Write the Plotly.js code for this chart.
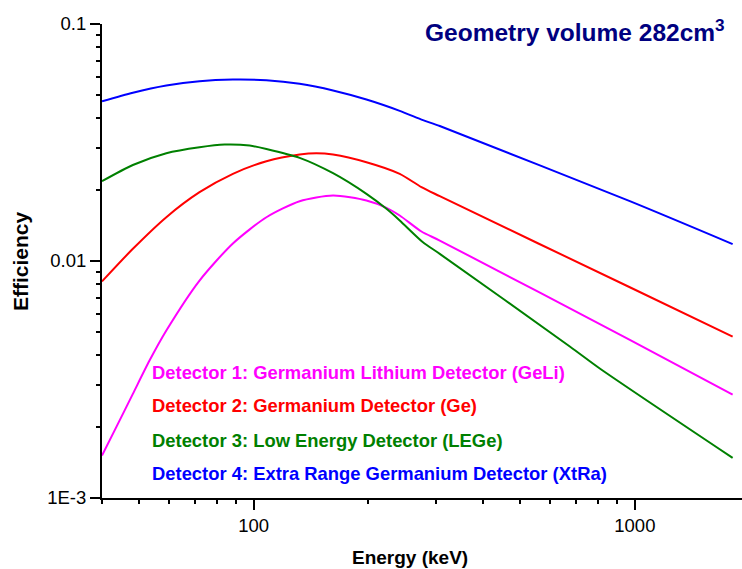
<!DOCTYPE html>
<html>
<head>
<meta charset="utf-8">
<script src="https://cdn.plot.ly/plotly-3.0.1.min.js"></script>
<style>html,body{margin:0;padding:0;background:#fff;}#chart{width:742px;height:569px;}</style>
</head>
<body>
<div id="chart"></div>
<script>
// Detector 1: GeLi (magenta)
const det1Energy = [40, 43.6, 48.2, 53.3, 59, 72.1, 88.2, 108, 132, 161.5, 197.6, 223, 241.6, 275.5, 307.7, 970, 1805];
const det1Eff    = [0.00151, 0.00199, 0.00275, 0.0038, 0.00509, 0.00827, 0.01186, 0.0153, 0.01788, 0.0189, 0.0180, 0.01677, 0.01556, 0.01332, 0.0122, 0.00465, 0.00273];
// Detector 2: Ge (red)
const det2Energy = [40, 48.2, 59, 72.1, 88.2, 108, 132, 146, 161.5, 197.6, 241.6, 275.5, 307.7, 970, 1805];
const det2Eff    = [0.0082, 0.01126, 0.01531, 0.01951, 0.02333, 0.02637, 0.02815, 0.0285, 0.02815, 0.02612, 0.02333, 0.0205, 0.01877, 0.00775, 0.0048];
// Detector 3: LEGe (green)
const det3Energy = [40, 48.2, 59, 72.1, 83.9, 97.6, 108, 132, 161.5, 197.6, 223, 241.6, 278, 307.7, 675, 809, 1805];
const det3Eff    = [0.02172, 0.02542, 0.0285, 0.0302, 0.0310, 0.0307, 0.0297, 0.02725, 0.02347, 0.0192, 0.0166, 0.01483, 0.0120, 0.01072, 0.00436, 0.00352, 0.001477];
// Detector 4: XtRa (blue)
const det4Energy = [40, 48.2, 59, 72.1, 88.2, 108, 132, 161.5, 197.6, 241.6, 278, 307.7, 970, 1805];
const det4Eff    = [0.0472, 0.0513, 0.0550, 0.0574, 0.0583, 0.0579, 0.0559, 0.0524, 0.0480, 0.0430, 0.0393, 0.0371, 0.01788, 0.01178];

const seriesNames = [
  'Detector 1: Germanium Lithium Detector (GeLi)',
  'Detector 2: Germanium Detector (Ge)',
  'Detector 3: Low Energy Detector (LEGe)',
  'Detector 4: Extra Range Germanium Detector (XtRa)'
];
const seriesColors = ['#FF00FF', '#FF0000', '#008000', '#0000FF'];

const xTickVals = [100, 1000];
const xTickText = ['100', '1000'];
const xMinorTickVals = [40, 50, 60, 70, 80, 90, 200, 300, 400, 500, 600, 700, 800, 900];
const yTickVals = [0.001, 0.01, 0.1];
const yTickText = ['1E-3', '0.01', '0.1'];
const yMinorTickVals = [0.002, 0.003, 0.004, 0.005, 0.006, 0.007, 0.008, 0.009,
                        0.02, 0.03, 0.04, 0.05, 0.06, 0.07, 0.08, 0.09];

const font = 'Liberation Sans, Arial, Helvetica, sans-serif';
const xs = [det1Energy, det2Energy, det3Energy, det4Energy];
const ys = [det1Eff, det2Eff, det3Eff, det4Eff];
const xRange = [Math.log10(40), Math.log10(1910)];
const yRange = [-3, -1];

const traces = xs.map((x, i) => ({
  x: x, y: ys[i], type: 'scatter', mode: 'lines', name: seriesNames[i],
  line: {color: seriesColors[i], width: 2, shape: 'spline', smoothing: 0.7},
  hoverinfo: 'skip'
}));
// invisible carrier trace so the minor-tick overlay axes are drawn
traces.push({
  x: det4Energy, y: det4Eff, xaxis: 'x2', yaxis: 'y2', type: 'scatter', mode: 'lines',
  line: {width: 0, color: 'rgba(0,0,0,0)'}, hoverinfo: 'skip', showlegend: false
});

const legendY = [0.265, 0.196, 0.122, 0.052];
const annotations = seriesNames.map((t, i) => ({
  text: '<b>' + t + '</b>', xref: 'paper', yref: 'paper',
  x: 0.0745, y: legendY[i], xanchor: 'left', yanchor: 'middle', showarrow: false,
  font: {family: font, size: 18.4, color: seriesColors[i]}
}));
annotations.push({
  text: '<b>Geometry volume 282cm<sup>3</sup></b>', xref: 'paper', yref: 'paper',
  x: 0.976, y: 0.986, xanchor: 'right', yanchor: 'middle', showarrow: false,
  font: {family: font, size: 24.5, color: '#000080'}
});
annotations.push({
  text: '<b>Energy (keV)</b>', xref: 'paper', yref: 'paper',
  x: 0.481, y: -0.125, xanchor: 'center', yanchor: 'middle', showarrow: false,
  font: {family: font, size: 19, color: '#000000'}
});
annotations.push({
  text: '<b>Efficiency</b>', xref: 'paper', yref: 'paper', textangle: -90,
  x: -0.128, y: 0.5, xanchor: 'center', yanchor: 'middle', showarrow: false,
  font: {family: font, size: 21, color: '#000000'}
});

const tickFont = {family: font, size: 18.5, color: '#000'};

const layout = {
  width: 742, height: 569,
  margin: {l: 102, r: 0, t: 24, b: 71, pad: 0},
  showlegend: false,
  font: {family: font, color: '#000'},
  xaxis: {type: 'log', range: xRange, showline: true, linecolor: '#000', linewidth: 2,
          ticks: 'outside', ticklen: 10, tickwidth: 2, tickcolor: '#000',
          tickmode: 'array', tickvals: xTickVals, ticktext: xTickText, tickfont: tickFont,
          showgrid: false, zeroline: false},
  yaxis: {type: 'log', range: yRange, showline: true, linecolor: '#000', linewidth: 2,
          ticks: 'outside', ticklen: 10, tickwidth: 2, tickcolor: '#000',
          tickmode: 'array', tickvals: yTickVals, ticktext: yTickText, tickfont: tickFont,
          showgrid: false, zeroline: false},
  xaxis2: {type: 'log', range: xRange, overlaying: 'x', anchor: 'y2', side: 'bottom',
           ticks: 'outside', ticklen: 5, tickwidth: 2, tickcolor: '#000',
           tickmode: 'array', tickvals: xMinorTickVals, showticklabels: false,
           showgrid: false, zeroline: false},
  yaxis2: {type: 'log', range: yRange, overlaying: 'y', anchor: 'x2', side: 'left',
           ticks: 'outside', ticklen: 5, tickwidth: 2, tickcolor: '#000',
           tickmode: 'array', tickvals: yMinorTickVals, showticklabels: false,
           showgrid: false, zeroline: false},
  annotations: annotations
};

Plotly.newPlot('chart', traces, layout, {displayModeBar: false, staticPlot: true});
</script>
</body>
</html>
